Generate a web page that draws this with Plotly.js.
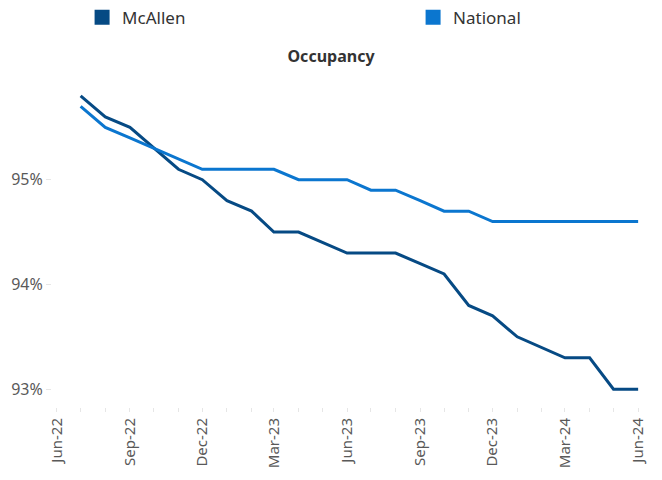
<!DOCTYPE html>
<html>
<head>
<meta charset="utf-8">
<script src="https://cdn.plot.ly/plotly-3.0.1.min.js"></script>
<style>html,body{margin:0;padding:0;background:#fff;}#chart{width:662px;height:480px;}</style>
</head>
<body>
<div id="chart"></div>
<script>
const months = ['2022-07-01','2022-08-01','2022-09-01','2022-10-01','2022-11-01','2022-12-01',
  '2023-01-01','2023-02-01','2023-03-01','2023-04-01','2023-05-01','2023-06-01',
  '2023-07-01','2023-08-01','2023-09-01','2023-10-01','2023-11-01','2023-12-01',
  '2024-01-01','2024-02-01','2024-03-01','2024-04-01','2024-05-01','2024-06-01'];
const mcallen = [95.8,95.6,95.5,95.3,95.1,95.0,94.8,94.7,94.5,94.5,94.4,94.3,
  94.3,94.3,94.2,94.1,93.8,93.7,93.5,93.4,93.3,93.3,93.0,93.0];
const national = [95.7,95.5,95.4,95.3,95.2,95.1,95.1,95.1,95.1,95.0,95.0,95.0,
  94.9,94.9,94.8,94.7,94.7,94.6,94.6,94.6,94.6,94.6,94.6,94.6];
const tickDates = ['2022-06-01','2022-09-01','2022-12-01','2023-03-01','2023-06-01','2023-09-01','2023-12-01','2024-03-01','2024-06-01'];
const tickLabels = ['Jun-22','Sep-22','Dec-22','Mar-23','Jun-23','Sep-23','Dec-23','Mar-24','Jun-24'];
const yTicks = [93,94,95];
const yLabels = ['93%','94%','95%'];

const cMc = '#064a84';
const cNat = '#0b76cf';
const font = '"Noto Sans", "Open Sans", sans-serif';

const traces = [
  {x: months, y: mcallen, type:'scatter', mode:'lines', name:'McAllen', line:{color:cMc, width:3}, showlegend:false},
  {x: months, y: national, type:'scatter', mode:'lines', name:'National', line:{color:cNat, width:3}, showlegend:false},
  {x:[null], y:[null], type:'scatter', mode:'markers', name:'McAllen', marker:{symbol:'square', size:15, color:cMc}, legend:'legend'},
  {x:[null], y:[null], type:'scatter', mode:'markers', name:'National', marker:{symbol:'square', size:15, color:cNat}, legend:'legend2'}
];

const legendBase = {orientation:'h', xref:'container', yref:'container', xanchor:'left', yanchor:'middle', y:0.963,
  font:{family:font, size:17, color:'#333'}, itemclick:false, bgcolor:'rgba(0,0,0,0)'};

const layout = {
  width:662, height:480,
  margin:{l:52, r:0, t:75, b:73, autoexpand:false},
  paper_bgcolor:'#fff', plot_bgcolor:'#fff',
  font:{family:font, color:'#595959'},
  title:{text:'<b>Occupancy</b>', x:0.5, xanchor:'center', y:0.883, yanchor:'middle', font:{family:font, size:16, color:'#333'}},
  showlegend:true,
  legend:Object.assign({}, legendBase, {x:0.124}),
  legend2:Object.assign({}, legendBase, {x:0.624}),
  xaxis:{type:'date', range:['2022-05-26','2024-07-01'], showgrid:false, zeroline:false, showline:false,
    tickmode:'array', tickvals:tickDates, ticktext:tickLabels, tickangle:-90,
    ticks:'outside', ticklen:4, tickcolor:'#e6e6e6', tickwidth:1,
    minor:{dtick:'M1', tick0:'2022-06-01', ticks:'outside', ticklen:4, tickcolor:'#e6e6e6', showgrid:false},
    tickfont:{family:font, size:15, color:'#595959'}},
  yaxis:{range:[92.83, 96.0], showgrid:false, zeroline:false, showline:false,
    tickmode:'array', tickvals:yTicks, ticktext:yLabels,
    ticks:'outside', ticklen:5, tickcolor:'#e6e6e6', tickwidth:1,
    tickfont:{family:font, size:16, color:'#595959'}}
};

Plotly.newPlot('chart', traces, layout, {displayModeBar:false, staticPlot:true});
</script>
</body>
</html>
